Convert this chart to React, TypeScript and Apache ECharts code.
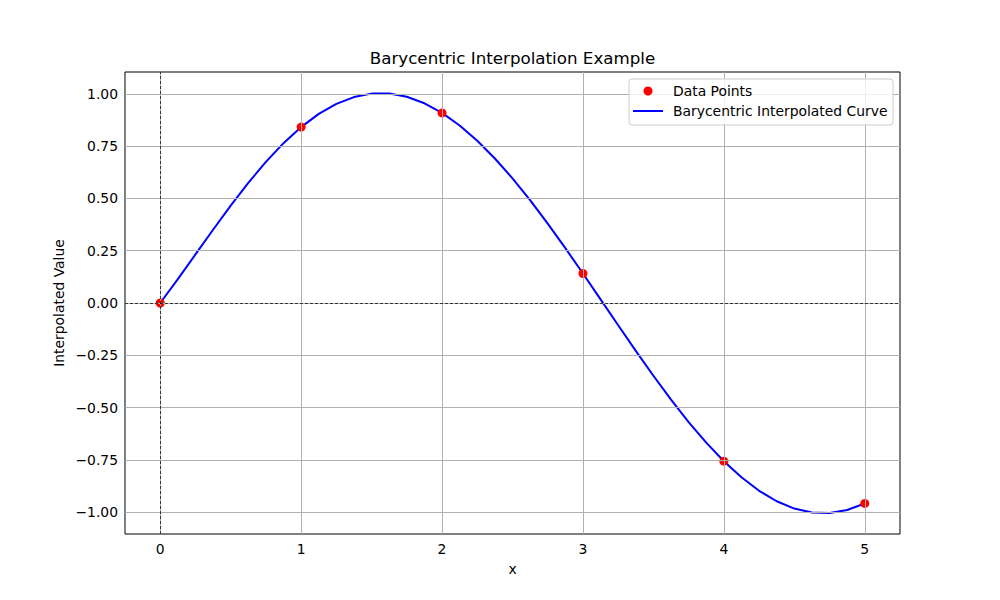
import React, { useEffect, useRef } from "react";
import * as echarts from "echarts";

const title = "Barycentric Interpolation Example";
const xName = "x";
const yName = "Interpolated Value";

const pointX = [0, 1, 2, 3, 4, 5];
const pointY = [0, 0.8415, 0.9093, 0.1411, -0.7568, -0.9589];

const curveX = [
  0, 0.125, 0.25, 0.375, 0.5, 0.625, 0.75, 0.875, 1, 1.125, 1.25, 1.375, 1.5, 1.625, 1.75, 1.875, 2, 2.125, 2.25, 2.375,
  2.5, 2.625, 2.75, 2.875, 3, 3.125, 3.25, 3.375, 3.5, 3.625, 3.75, 3.875, 4, 4.125, 4.25, 4.375, 4.5, 4.625, 4.75, 4.875, 5,
];
const curveY = [
  0, 0.1141, 0.2323, 0.3506, 0.4658, 0.5747, 0.675, 0.7645, 0.8415, 0.9045, 0.9526, 0.9851, 1.0016, 1.002, 0.9864, 0.9553,
  0.9093, 0.8492, 0.7762, 0.6913, 0.596, 0.4917, 0.3799, 0.2625, 0.1411, 0.0175, -0.1064, -0.2289, -0.348, -0.4621, -0.5694,
  -0.6681, -0.7568, -0.8338, -0.8982, -0.9483, -0.9833, -1.0024, -1.0049, -0.9904, -0.9589,
];

const xTicks = [0, 1, 2, 3, 4, 5];
const yTicks = [-1, -0.75, -0.5, -0.25, 0, 0.25, 0.5, 0.75, 1];

const legendLabels = ["Data Points", "Barycentric Interpolated Curve"];

const FONT = "DejaVu Sans";
const FS = 13.9;

export default function App() {
  const ref = useRef<HTMLDivElement>(null);
  useEffect(() => {
    document.body.style.margin = "0";
    const chart = echarts.init(ref.current!, null, { renderer: "svg" });
    const gridColor = "#b0b0b0";
    const option: any = {
      animation: false,
      backgroundColor: "#ffffff",
      grid: {
        left: 125,
        right: 100,
        top: 72,
        bottom: 66,
        show: true,
        borderColor: "#000000",
        borderWidth: 1,
        backgroundColor: "transparent",
      },
      xAxis: {
        type: "value",
        min: -0.25,
        max: 5.25,
        axisLine: { show: false },
        splitLine: { show: false },
        axisTick: { show: true, length: 4, lineStyle: { color: "#000", width: 1 }, customValues: xTicks },
        axisLabel: {
          customValues: xTicks,
          margin: 8,
          color: "#000",
          fontFamily: FONT,
          fontSize: FS,
          formatter: (v: number) => String(v),
        },
      },
      yAxis: {
        type: "value",
        min: -1.105,
        max: 1.105,
        axisLine: { show: false },
        splitLine: { show: false },
        axisTick: { show: true, length: 4, lineStyle: { color: "#000", width: 1 }, customValues: yTicks },
        axisLabel: {
          customValues: yTicks,
          margin: 7,
          color: "#000",
          fontFamily: FONT,
          fontSize: FS,
          formatter: (v: number) => v.toFixed(2).replace("-", "\u2212"),
        },
      },
      series: [
        {
          type: "line",
          data: [],
          z: 1,
          silent: true,
          markLine: {
            silent: true,
            symbol: "none",
            animation: false,
            label: { show: false },
            emphasis: { disabled: true },
            data: [
              ...xTicks.map((v) => ({ xAxis: v, lineStyle: { color: gridColor, width: 1, type: "solid" } })),
              ...yTicks.map((v) => ({ yAxis: v, lineStyle: { color: gridColor, width: 1, type: "solid" } })),
              { xAxis: 0, lineStyle: { color: "#000", width: 0.7, type: [3, 2] } },
              { yAxis: 0, lineStyle: { color: "#000", width: 0.7, type: [3, 2] } },
            ],
          },
        },
        {
          name: legendLabels[1],
          type: "line",
          z: 2,
          data: curveX.map((x, i) => [x, curveY[i]]),
          smooth: false,
          showSymbol: false,
          lineStyle: { color: "#0000ff", width: 2, join: "round" },
        },
        {
          name: legendLabels[0],
          type: "scatter",
          z: 3,
          data: pointX.map((x, i) => [x, pointY[i]]),
          symbolSize: 9,
          itemStyle: { color: "#ff0000", opacity: 1 },
        },
      ],
      graphic: [
        {
          type: "text",
          x: 512.5,
          y: 58,
          style: { text: title, fontFamily: FONT, fontSize: 16.7, fill: "#000", align: "center", verticalAlign: "middle" },
        },
        {
          type: "text",
          x: 512.5,
          y: 569,
          style: { text: xName, fontFamily: FONT, fontSize: FS, fill: "#000", align: "center", verticalAlign: "middle" },
        },
        {
          type: "text",
          x: 59,
          y: 303,
          rotation: Math.PI / 2,
          style: { text: yName, fontFamily: FONT, fontSize: FS, fill: "#000", align: "center", verticalAlign: "middle" },
        },
        {
          type: "rect",
          shape: { x: 629, y: 79, width: 264, height: 46, r: 3 },
          style: { fill: "rgba(255,255,255,0.8)", stroke: "#cccccc", lineWidth: 1 },
          z: 10,
        },
        {
          type: "circle",
          shape: { cx: 648, cy: 91, r: 4.5 },
          style: { fill: "#ff0000" },
          z: 11,
        },
        {
          type: "line",
          shape: { x1: 633, y1: 111, x2: 663, y2: 111 },
          style: { stroke: "#0000ff", lineWidth: 2 },
          z: 11,
        },
        {
          type: "text",
          x: 673,
          y: 91,
          style: { text: legendLabels[0], fontFamily: FONT, fontSize: FS, fill: "#000", verticalAlign: "middle" },
          z: 11,
        },
        {
          type: "text",
          x: 673,
          y: 111,
          style: { text: legendLabels[1], fontFamily: FONT, fontSize: FS, fill: "#000", verticalAlign: "middle" },
          z: 11,
        },
      ],
    };
    chart.setOption(option);
    return () => chart.dispose();
  }, []);
  return <div ref={ref} style={{ width: 1000, height: 600 }} />;
}
